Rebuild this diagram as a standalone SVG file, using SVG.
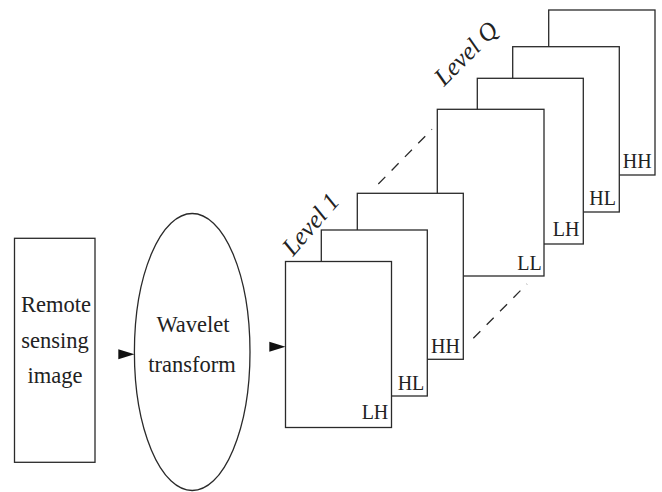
<svg xmlns="http://www.w3.org/2000/svg" width="662" height="492" viewBox="0 0 662 492">
<style>
.box{fill:#fff;stroke:#2a2a2a;stroke-width:1.3}
.t{font-family:"Liberation Serif","Times New Roman",serif;fill:#222}
.big{font-size:22.5px;text-anchor:middle}
.lab{font-size:20px;text-anchor:end}
.lvl{font-size:25px;font-style:italic}
.dash{stroke:#2a2a2a;stroke-width:1.3;stroke-dasharray:10 9;fill:none}
.head{fill:#111}
</style>
<rect width="662" height="492" fill="#fff"/>
<g id="remote-sensing-image">
<rect class="box" x="14.5" y="238.3" width="80.5" height="224"/>
<text class="t big" x="56" y="311.5">Remote</text>
<text class="t big" x="55" y="347.5">sensing</text>
<text class="t big" x="55" y="383">image</text>
</g>
<g id="wavelet-transform">
<ellipse class="box" cx="192.2" cy="352" rx="57.8" ry="138.5"/>
<text class="t big" x="193" y="331.5">Wavelet</text>
<text class="t big" x="192" y="371.5">transform</text>
</g>
<g id="level-q">
<rect class="box" x="548.7" y="10" width="106.3" height="165"/>
<text class="t lab" x="651.7" y="168.3">HH</text>
<rect class="box" x="512.7" y="46.7" width="106.6" height="165.3"/>
<text class="t lab" x="616" y="205">HL</text>
<rect class="box" x="477.3" y="78.3" width="106" height="165.7"/>
<text class="t lab" x="579.5" y="236">LH</text>
<rect class="box" x="437.3" y="109.3" width="106.7" height="166.7"/>
<text class="t lab" x="541.7" y="270">LL</text>
<text class="t lvl" transform="translate(444,87) rotate(-45)">Level Q</text>
</g>
<g id="level-1">
<rect class="box" x="357.3" y="193.3" width="106" height="166"/>
<text class="t lab" x="460" y="353.3">HH</text>
<rect class="box" x="321.3" y="230" width="106" height="166"/>
<text class="t lab" x="424.3" y="390">HL</text>
<rect class="box" x="285.5" y="261.5" width="106" height="166"/>
<text class="t lab" x="388.3" y="419.3">LH</text>
<text class="t lvl" transform="translate(293,257) rotate(-49)">Level 1</text>
</g>
<g id="connectors">
<polygon class="head" points="118.3,349.3 134.5,354.3 118.3,359.3"/>
<polygon class="head" points="269.3,341.7 285.5,346.7 269.3,351.7"/>
<line class="dash" x1="378.3" y1="184" x2="432" y2="129.3"/>
<line class="dash" x1="473.3" y1="338.3" x2="527" y2="284"/>
</g>
</svg>
